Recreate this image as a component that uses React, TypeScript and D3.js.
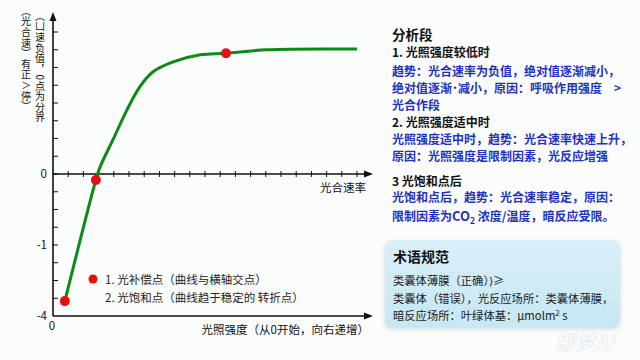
import React from "react";
import * as d3 from "d3";

// curve samples: light intensity (0-100) vs rate (axis units)
const curveX = [3.9, 14.1, 15.5, 19.7, 24.3, 28.6, 32.9, 39.5, 48.4, 56.6, 70.4, 100];
const curveY = [-1.79, -0.085, 0.1, 0.48, 0.9, 1.23, 1.44, 1.58, 1.68, 1.7, 1.75, 1.76];
const keyX = [3.9, 14.1, 56.9];
const keyY = [-1.79, -0.085, 1.7];
const yTickVals = [0, -1, -2];
const yTickLabels = ["0", "-1", "-4"];
const legendItems = ["1. 光补偿点（曲线与横轴交点）", "2. 光饱和点（曲线趋于稳定的 转折点）"];
const yLabelCols = ["（光合速）有正∧停）", "（凵速负值，0点为分界"];
const analysisTitle = "分析段";
const analysisLines: { t: string; kind: string }[] = [
  { t: "1. 光照强度较低时", kind: "h" },
  { t: "趋势：光合速率为负值，绝对值逐渐减小，", kind: "b" },
  { t: "绝对值逐渐˙减小，原因：呼吸作用强度　>", kind: "b" },
  { t: "光合作段", kind: "b" },
  { t: "2. 光照强度适中时", kind: "h" },
  { t: "光照强度适中时，趋势：光合速率快速上升，", kind: "b" },
  { t: "原因：光照强度是限制因素，光反应增强", kind: "b" },
  { t: "3  光饱和点后", kind: "h" },
  { t: "光饱和点后，趋势：光合速率稳定，原因：", kind: "b" },
  { t: "CO2", kind: "co2" },
];
const termTitle = "术语规范";
const termLines = ["类囊体薄膜（正确）⟩≥", "类囊体（错误），光反应场所：类囊体薄膜，"];

const FONT = "'Noto Sans CJK SC', 'Noto Sans', sans-serif";
const BLUE = "#1f31c2";

export default function App() {
  const x = d3.scaleLinear().domain([0, 100]).range([53, 357]);
  const y = d3.scaleLinear().domain([-2, 0]).range([316, 174]);
  const pts = curveX.map((v, i) => [x(v), y(curveY[i])] as [number, number]);
  const line = d3.line().curve(d3.curveCatmullRom.alpha(0.5))(pts) || "";
  const yMinor = d3.range(-1.75, 2.01, 0.25);
  const xMinor = d3.range(5, 101, 5);
  const lineYsFull = [53, 72, 89, 106, 123, 140, 157, 182, 198];
  const colX = [26, 40];
  const colY0 = [6, 11];
  return (
    <svg width={640} height={360} style={{ position: "absolute", left: 0, top: 0, fontFamily: FONT }}>
      <defs>
        <linearGradient id="box" x1="0" y1="0" x2="0" y2="1">
          <stop offset="0" stopColor="#d9eff8" />
          <stop offset="1" stopColor="#c6e7f4" />
        </linearGradient>
        <filter id="sh" x="-10%" y="-10%" width="120%" height="130%">
          <feDropShadow dx="0" dy="2" stdDeviation="2.5" floodColor="#7a9aa8" floodOpacity="0.35" />
        </filter>
      </defs>
      <rect width={640} height={360} fill="#fbfcfc" />
      {/* axes */}
      <line x1={53} y1={316} x2={53} y2={18} stroke="#111" strokeWidth={1.6} />
      <path d="M53,12 L49.5,21 L56.5,21 Z" fill="#111" />
      <line x1={53} y1={174} x2={366} y2={174} stroke="#111" strokeWidth={1.6} />
      <path d="M373,174 L364,170.5 L364,177.5 Z" fill="#111" />
      <line x1={53} y1={316} x2={366} y2={316} stroke="#111" strokeWidth={1.6} />
      <path d="M373,316 L364,312.5 L364,319.5 Z" fill="#111" />
      {yMinor.map((v) => (
        <line key={"ym" + v} x1={53} x2={58} y1={y(v)} y2={y(v)} stroke="#111" strokeWidth={1} />
      ))}
      {xMinor.map((v) => (
        <line key={"xm" + v} x1={x(v)} x2={x(v)} y1={171} y2={177} stroke="#111" strokeWidth={1} />
      ))}
      {yTickVals.map((v, i) => (
        <text key={"yt" + v} x={47} y={y(v) + 4} textAnchor="end" fontSize={11.5} fill="#111">
          {yTickLabels[i]}
        </text>
      ))}
      <text x={52} y={330} textAnchor="middle" fontSize={11.5} fill="#111">0</text>
      <text x={366} y={192} textAnchor="end" fontSize={11.5} fill="#111">光合速率</text>
      <text x={369} y={334} textAnchor="end" fontSize={11.5} fill="#111">光照强度（从0开始，向右递增）</text>
      {yLabelCols.map((t, ci) => (
        <text key={"yl" + ci} x={colX[ci]} y={colY0[ci]} fontSize={10} fill="#111" letterSpacing={0.6}
          dominantBaseline="central" style={{ writingMode: "vertical-rl" }}>
          {t}
        </text>
      ))}
      {/* curve */}
      <path d={line} fill="none" stroke="#0d8a18" strokeWidth={3} />
      {keyX.map((v, i) => (
        <circle key={"k" + i} cx={x(v)} cy={y(keyY[i])} r={5} fill="#e3120e" />
      ))}
      {/* legend */}
      <circle cx={93} cy={279} r={4.5} fill="#e3120e" />
      {legendItems.map((t, i) => (
        <text key={"lg" + i} x={105} y={284 + i * 18} fontSize={11.5} fill="#222">
          {t}
        </text>
      ))}
      {/* right panel */}
      <text x={392} y={40} fontSize={13.5} fontWeight="bold" fill="#111">{analysisTitle}</text>
      {analysisLines.map((l, i) => {
        const yy = lineYsFull[i] + 4;
        if (l.kind === "co2") {
          return (
            <text key={"a" + i} x={392} y={221} fontSize={12} fontWeight="bold" fill={BLUE}>
              限制因素为<tspan fontSize={13}>CO</tspan><tspan fontSize={8.5} dy={2.5}>2</tspan>
              <tspan dy={-2.5}> 浓度/温度，暗反应受限。</tspan>
            </text>
          );
        }
        return (
          <text key={"a" + i} x={392} y={yy} fontSize={12} fontWeight="bold"
            fill={l.kind === "h" ? "#111" : BLUE}>
            {l.t}
          </text>
        );
      })}
      <rect x={385} y={240} width={235} height={87} rx={7} fill="url(#box)" filter="url(#sh)" />
      <text x={393} y={262} fontSize={14} fontWeight="bold" fill="#111">{termTitle}</text>
      {termLines.map((t, i) => (
        <text key={"tl" + i} x={393} y={285 + i * 17.5} fontSize={11.3} fill="#222">{t}</text>
      ))}
      <text x={393} y={320} fontSize={11.3} fill="#222">
        暗反应场所：叶绿体基：μmolm<tspan fontSize={8} dy={-4}>2</tspan><tspan dy={4}> s</tspan>
      </text>
      <text x={555} y={350} fontSize={20} fontStyle="italic" fontWeight="bold" fill="#ffffff" fillOpacity={0.8}
        stroke="#dfe8ee" strokeWidth={0.6}>即梦AI</text>
    </svg>
  );
}
